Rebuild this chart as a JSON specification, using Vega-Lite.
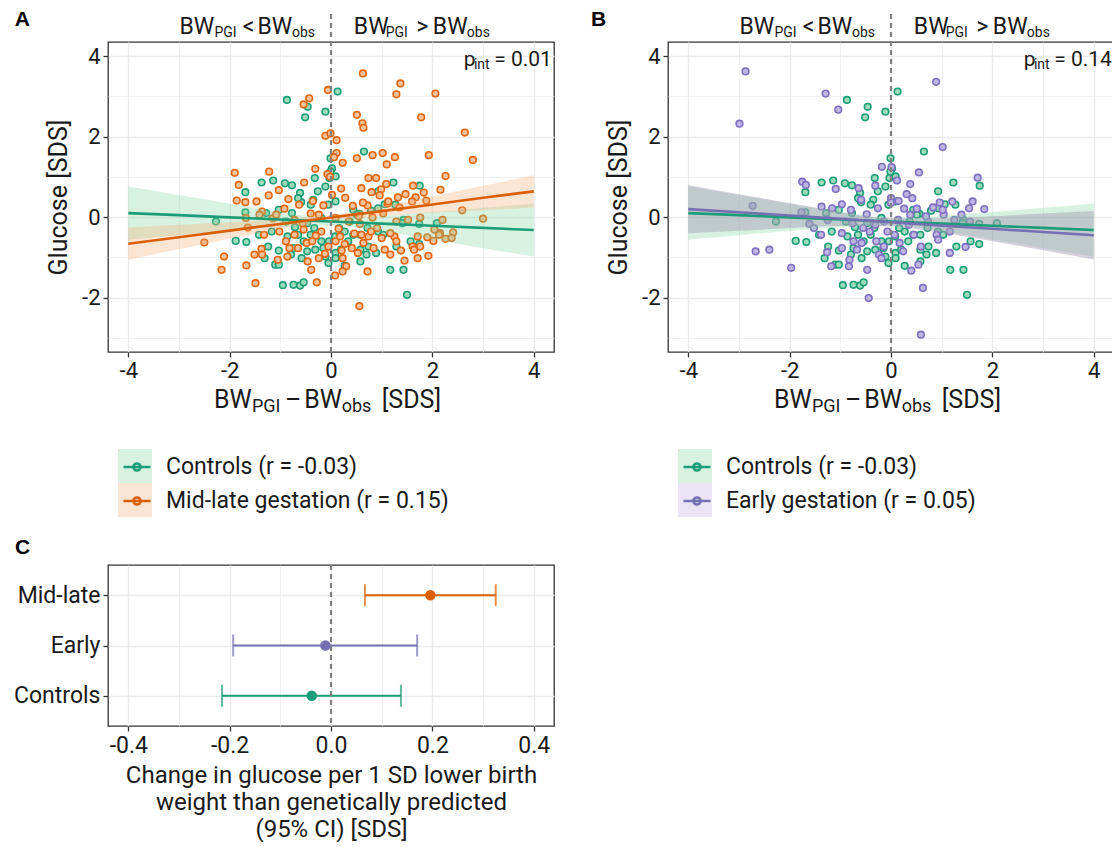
{
  "$schema": "https://vega.github.io/schema/vega-lite/v6.json",
  "background": "white",
  "padding": {"left": 12, "top": 8, "right": 0, "bottom": 0},
  "config": {
    "font": "Roboto",
    "view": {"stroke": "#333333", "strokeWidth": 1.3},
    "axis": {"domain": false, "tickColor": "#333333", "tickSize": 5, "tickWidth": 1.3, "labelColor": "#1a1a1a", "labelFontSize": 22, "labelPadding": 3, "labelFont": "Roboto", "titleFont": "Roboto", "titleFontSize": 25, "titleFontWeight": "normal", "titleColor": "#1a1a1a", "gridColor": "#ebebeb", "gridWidth": 1.4},
    "text": {"font": "Roboto", "color": "#1a1a1a"},
    "legend": {"labelFont": "Roboto", "labelColor": "#1a1a1a", "labelLimit": 600}
  },
  "datasets": {
    "controls": [
      {"x":-0.87,"y":2.91},{"x":-0.46,"y":2.74},{"x":-0.51,"y":2.48},{"x":-0.11,"y":2.62},{"x":0.13,"y":3.12},{"x":0.65,"y":1.63},{"x":-0.01,"y":1.46},{"x":0.02,"y":1.21},{"x":-0.01,"y":1.13},{"x":-0.03,"y":0.97},{"x":0.09,"y":1.01},{"x":-1.37,"y":0.86},{"x":-1.14,"y":0.91},{"x":-0.91,"y":0.84},{"x":-0.77,"y":0.79},{"x":-0.32,"y":0.97},{"x":-0.11,"y":0.76},{"x":-0.26,"y":0.64},{"x":-0.61,"y":0.60},{"x":-1.69,"y":0.62},{"x":1.23,"y":0.86},{"x":0.93,"y":0.64},{"x":1.75,"y":0.78},{"x":-0.35,"y":0.43},{"x":-0.59,"y":0.37},{"x":-1.69,"y":0.12},{"x":-2.27,"y":-0.11},{"x":-1.88,"y":-0.59},{"x":-1.67,"y":-0.62},{"x":-1.24,"y":-0.73},{"x":-1.03,"y":-0.83},{"x":-0.79,"y":-0.93},{"x":-0.74,"y":-0.77},{"x":-1.10,"y":-1.18},{"x":-1.03,"y":-1.18},{"x":-0.95,"y":-1.69},{"x":-0.74,"y":-1.68},{"x":-0.61,"y":-1.70},{"x":-0.54,"y":-1.62},{"x":-0.05,"y":-1.14},{"x":-0.11,"y":-0.98},{"x":-0.19,"y":-0.60},{"x":-0.40,"y":-0.44},{"x":-0.54,"y":-0.60},{"x":-0.65,"y":-0.44},{"x":-0.86,"y":-0.48},{"x":-1.17,"y":-0.36},{"x":0.27,"y":-0.36},{"x":0.44,"y":-0.44},{"x":0.09,"y":-0.89},{"x":0.27,"y":-1.21},{"x":0.58,"y":-1.10},{"x":0.70,"y":-0.93},{"x":0.89,"y":-0.89},{"x":1.17,"y":-1.31},{"x":1.43,"y":-1.31},{"x":1.50,"y":-1.93},{"x":1.29,"y":-0.73},{"x":1.57,"y":-0.60},{"x":1.74,"y":-0.67},{"x":0.93,"y":-0.36},{"x":0.72,"y":-0.27},{"x":0.56,"y":0.08},{"x":1.06,"y":0.32},{"x":1.27,"y":0.31},{"x":1.43,"y":-0.07},{"x":1.74,"y":-0.17},{"x":2.09,"y":-0.15},{"x":0.58,"y":-0.44},{"x":0.34,"y":-0.60},{"x":0.20,"y":-0.81},{"x":0.16,"y":-0.27},{"x":-0.19,"y":-0.02},{"x":-0.33,"y":-0.27},{"x":-0.47,"y":-0.15},{"x":-0.71,"y":-0.25},{"x":-0.89,"y":-0.11},{"x":-1.03,"y":0.18},{"x":-1.28,"y":0.10},{"x":-0.77,"y":0.10},{"x":-0.65,"y":0.47},{"x":-0.40,"y":0.31},{"x":-0.05,"y":0.31},{"x":0.09,"y":0.39},{"x":0.44,"y":0.18},{"x":0.51,"y":0.06},{"x":0.79,"y":0.16},{"x":0.93,"y":0.22},{"x":0.37,"y":-0.11},{"x":0.08,"y":-0.48},{"x":-0.04,"y":-0.60},{"x":-0.15,"y":-0.77},{"x":-0.31,"y":-0.81},{"x":-0.47,"y":-0.85},{"x":-0.58,"y":-1.02},{"x":0.58,"y":-0.81},{"x":0.74,"y":-0.73},{"x":0.09,"y":-1.02},{"x":-1.42,"y":-0.44},{"x":-1.31,"y":-1.02},{"x":1.03,"y":-0.44},{"x":1.41,"y":-0.15}
    ],
    "midlate": [
      {"x":0.63,"y":3.57},{"x":1.37,"y":3.32},{"x":1.29,"y":3.05},{"x":2.06,"y":3.07},{"x":-0.06,"y":3.16},{"x":-0.43,"y":2.95},{"x":-0.54,"y":2.80},{"x":0.51,"y":2.54},{"x":0.62,"y":2.33},{"x":0.64,"y":2.22},{"x":1.78,"y":2.48},{"x":2.64,"y":2.10},{"x":2.80,"y":1.42},{"x":-0.11,"y":2.02},{"x":-0.01,"y":2.08},{"x":0.11,"y":1.91},{"x":1.02,"y":1.59},{"x":0.82,"y":1.54},{"x":1.26,"y":1.49},{"x":0.51,"y":1.46},{"x":1.93,"y":1.54},{"x":0.11,"y":1.59},{"x":0.06,"y":1.49},{"x":0.23,"y":1.35},{"x":1.10,"y":1.31},{"x":2.26,"y":1.02},{"x":2.16,"y":0.68},{"x":-0.31,"y":1.20},{"x":-1.22,"y":1.13},{"x":-1.90,"y":1.10},{"x":-1.82,"y":0.80},{"x":-0.07,"y":1.07},{"x":-0.02,"y":1.00},{"x":0.89,"y":0.97},{"x":0.74,"y":0.97},{"x":1.09,"y":0.82},{"x":0.99,"y":0.69},{"x":-0.53,"y":0.86},{"x":-1.23,"y":0.54},{"x":-0.84,"y":0.45},{"x":-1.86,"y":0.41},{"x":-1.69,"y":0.37},{"x":-1.03,"y":0.67},{"x":0.60,"y":0.72},{"x":0.80,"y":0.62},{"x":0.96,"y":0.54},{"x":1.32,"y":0.49},{"x":1.62,"y":0.78},{"x":1.83,"y":0.61},{"x":1.88,"y":0.41},{"x":1.67,"y":0.49},{"x":1.47,"y":0.57},{"x":1.12,"y":0.34},{"x":1.35,"y":0.24},{"x":0.72,"y":0.29},{"x":0.63,"y":0.36},{"x":0.43,"y":0.28},{"x":0.28,"y":0.48},{"x":0.20,"y":0.71},{"x":0.02,"y":0.55},{"x":-0.15,"y":0.29},{"x":-0.36,"y":0.40},{"x":-0.63,"y":0.31},{"x":-0.92,"y":0.21},{"x":-1.36,"y":0.14},{"x":2.59,"y":0.17},{"x":3.00,"y":-0.04},{"x":2.41,"y":-0.38},{"x":2.26,"y":-0.54},{"x":2.15,"y":-0.40},{"x":2.02,"y":-0.59},{"x":1.92,"y":-0.96},{"x":1.71,"y":-0.48},{"x":1.61,"y":-0.73},{"x":1.64,"y":-0.81},{"x":1.45,"y":-1.08},{"x":1.38,"y":-0.83},{"x":1.25,"y":-0.48},{"x":1.29,"y":-0.60},{"x":1.17,"y":-0.40},{"x":0.91,"y":-0.27},{"x":0.74,"y":-0.48},{"x":0.84,"y":-0.77},{"x":0.72,"y":-1.35},{"x":0.56,"y":-2.21},{"x":0.30,"y":-1.22},{"x":0.23,"y":-1.02},{"x":0.08,"y":-1.45},{"x":0.21,"y":-0.83},{"x":0.41,"y":-0.77},{"x":0.53,"y":-0.89},{"x":0.64,"y":-0.64},{"x":0.46,"y":-0.41},{"x":0.15,"y":-0.29},{"x":-0.19,"y":-0.36},{"x":-0.30,"y":-0.46},{"x":-0.48,"y":-0.64},{"x":-0.46,"y":-1.10},{"x":-0.39,"y":-1.31},{"x":-0.28,"y":-1.62},{"x":-0.65,"y":-0.77},{"x":-0.86,"y":-0.98},{"x":-0.89,"y":-0.60},{"x":-1.02,"y":-0.36},{"x":-1.32,"y":-0.44},{"x":-1.37,"y":-0.79},{"x":-1.36,"y":-0.93},{"x":-1.67,"y":-1.20},{"x":-1.49,"y":-1.64},{"x":-2.11,"y":-0.98},{"x":-2.16,"y":-1.31},{"x":-2.50,"y":-0.63},{"x":-1.15,"y":-0.03},{"x":-1.08,"y":0.06},{"x":-0.72,"y":-0.07},{"x":-0.56,"y":-0.15},{"x":-0.40,"y":0.09},{"x":-0.24,"y":0.06},{"x":0.09,"y":-0.02},{"x":0.35,"y":-0.11},{"x":0.55,"y":0.02},{"x":0.82,"y":-0.01},{"x":1.03,"y":0.09},{"x":1.29,"y":-0.11},{"x":1.52,"y":-0.07},{"x":1.76,"y":-0.01},{"x":1.90,"y":-0.50},{"x":2.13,"y":-0.44},{"x":2.04,"y":-0.31},{"x":0.09,"y":-0.60},{"x":0.18,"y":-0.48},{"x":-0.05,"y":-0.73},{"x":-0.12,"y":-0.91},{"x":0.27,"y":-0.67},{"x":0.60,"y":-0.44},{"x":0.79,"y":-0.36},{"x":1.00,"y":-0.52},{"x":1.06,"y":-0.81},{"x":1.17,"y":-0.93},{"x":0.57,"y":-0.17},{"x":-0.54,"y":-0.31},{"x":-0.72,"y":-0.44},{"x":-0.82,"y":-0.77},{"x":-1.05,"y":-1.06},{"x":-1.51,"y":-0.93},{"x":1.71,"y":-1.02},{"x":1.76,"y":-0.73},{"x":-0.37,"y":-0.60},{"x":-0.24,"y":-1.02},{"x":0.23,"y":-1.35},{"x":-1.47,"y":0.39},{"x":-1.41,"y":0.06},{"x":-1.68,"y":-0.02},{"x":-1.64,"y":-0.26},{"x":1.13,"y":0.39},{"x":1.60,"y":0.39},{"x":2.20,"y":-0.07},{"x":2.38,"y":-0.52}
    ],
    "early": [
      {"x":-2.87,"y":3.62},{"x":-2.99,"y":2.32},{"x":-1.29,"y":3.07},{"x":-1.04,"y":2.67},{"x":0.89,"y":3.36},{"x":1.02,"y":1.74},{"x":-0.18,"y":1.25},{"x":0.01,"y":1.24},{"x":0.55,"y":1.11},{"x":-1.75,"y":0.88},{"x":-1.68,"y":0.80},{"x":-1.09,"y":0.70},{"x":-0.64,"y":0.72},{"x":-0.31,"y":0.78},{"x":0.12,"y":0.91},{"x":0.38,"y":0.82},{"x":0.31,"y":0.57},{"x":0.00,"y":0.47},{"x":-0.59,"y":0.43},{"x":1.71,"y":0.98},{"x":1.61,"y":0.39},{"x":1.84,"y":0.20},{"x":1.54,"y":0.22},{"x":1.21,"y":0.39},{"x":0.83,"y":0.24},{"x":0.51,"y":0.21},{"x":-2.73,"y":0.28},{"x":-2.67,"y":-0.85},{"x":-2.40,"y":-0.81},{"x":-1.97,"y":-1.26},{"x":-1.37,"y":0.26},{"x":-1.16,"y":0.22},{"x":-0.97,"y":0.32},{"x":-0.79,"y":0.18},{"x":-0.48,"y":0.07},{"x":-0.26,"y":0.22},{"x":0.00,"y":0.36},{"x":0.15,"y":0.40},{"x":0.26,"y":0.21},{"x":-1.77,"y":0.12},{"x":-1.61,"y":-0.17},{"x":-1.38,"y":-0.44},{"x":-1.26,"y":-0.87},{"x":-1.18,"y":-1.22},{"x":-0.97,"y":-0.77},{"x":-0.97,"y":-0.40},{"x":-0.83,"y":-1.22},{"x":-0.82,"y":-1.06},{"x":-0.74,"y":-0.60},{"x":-0.67,"y":-0.81},{"x":-0.58,"y":-0.64},{"x":-0.47,"y":-1.31},{"x":-0.44,"y":-2.01},{"x":-0.42,"y":-0.36},{"x":-0.29,"y":-0.60},{"x":-0.24,"y":-0.93},{"x":-0.19,"y":-1.02},{"x":-0.14,"y":-0.73},{"x":-0.07,"y":-0.36},{"x":0.07,"y":-0.44},{"x":0.17,"y":-0.64},{"x":0.24,"y":-0.85},{"x":0.40,"y":-1.33},{"x":0.54,"y":-1.18},{"x":0.59,"y":-0.73},{"x":0.63,"y":-1.76},{"x":0.59,"y":-2.92},{"x":0.45,"y":-0.44},{"x":0.35,"y":-0.19},{"x":0.14,"y":-0.07},{"x":0.73,"y":-0.11},{"x":0.90,"y":-0.44},{"x":0.93,"y":-0.56},{"x":1.16,"y":-0.89},{"x":1.16,"y":-0.36},{"x":1.47,"y":-0.74},{"x":1.39,"y":0.06},{"x":1.56,"y":-0.11},{"x":1.25,"y":-0.07},{"x":1.04,"y":0.06},{"x":0.69,"y":0.02},{"x":0.38,"y":0.06},{"x":-0.14,"y":-0.11},{"x":-0.31,"y":-0.19},{"x":-0.55,"y":-0.27},{"x":-0.76,"y":-0.15},{"x":-1.25,"y":-0.07},{"x":-1.52,"y":-0.27},{"x":0.42,"y":0.47},{"x":0.96,"y":0.36},{"x":1.02,"y":0.18}
    ],
    "fits": [
      {"group":"Controls","x":-4,"fit":0.10,"lo":-0.56,"hi":0.76},
      {"group":"Controls","x":-3,"fit":0.05,"lo":-0.45,"hi":0.55},
      {"group":"Controls","x":-2,"fit":-0.005,"lo":-0.345,"hi":0.335},
      {"group":"Controls","x":-1,"fit":-0.0575,"lo":-0.25,"hi":0.13},
      {"group":"Controls","x":0,"fit":-0.11,"lo":-0.21,"hi":-0.01},
      {"group":"Controls","x":1,"fit":-0.1625,"lo":-0.35,"hi":0.03},
      {"group":"Controls","x":2,"fit":-0.215,"lo":-0.555,"hi":0.125},
      {"group":"Controls","x":3,"fit":-0.2675,"lo":-0.77,"hi":0.23},
      {"group":"Controls","x":4,"fit":-0.32,"lo":-0.98,"hi":0.34},
      {"group":"Mid-late","x":-4,"fit":-0.66,"lo":-1.06,"hi":-0.26},
      {"group":"Mid-late","x":-3,"fit":-0.50,"lo":-0.80,"hi":-0.19},
      {"group":"Mid-late","x":-2,"fit":-0.335,"lo":-0.54,"hi":-0.13},
      {"group":"Mid-late","x":-1,"fit":-0.17,"lo":-0.29,"hi":-0.05},
      {"group":"Mid-late","x":0,"fit":-0.01,"lo":-0.08,"hi":0.06},
      {"group":"Mid-late","x":1,"fit":0.15,"lo":0.03,"hi":0.27},
      {"group":"Mid-late","x":2,"fit":0.315,"lo":0.11,"hi":0.52},
      {"group":"Mid-late","x":3,"fit":0.48,"lo":0.17,"hi":0.78},
      {"group":"Mid-late","x":4,"fit":0.64,"lo":0.24,"hi":1.04},
      {"group":"Early","x":-4,"fit":0.20,"lo":-0.40,"hi":0.80},
      {"group":"Early","x":-3,"fit":0.12,"lo":-0.34,"hi":0.57},
      {"group":"Early","x":-2,"fit":0.04,"lo":-0.27,"hi":0.35},
      {"group":"Early","x":-1,"fit":-0.04,"lo":-0.22,"hi":0.13},
      {"group":"Early","x":0,"fit":-0.125,"lo":-0.23,"hi":-0.03},
      {"group":"Early","x":1,"fit":-0.21,"lo":-0.39,"hi":-0.03},
      {"group":"Early","x":2,"fit":-0.29,"lo":-0.60,"hi":0.02},
      {"group":"Early","x":3,"fit":-0.37,"lo":-0.82,"hi":0.09},
      {"group":"Early","x":4,"fit":-0.45,"lo":-1.05,"hi":0.15}
    ],
    "hdr": [
      {"t":"BW","x":-2.99,"k":"main"},{"t":"PGI","x":-2.30,"k":"sub"},{"t":"<","x":-1.74,"k":"main"},{"t":"BW","x":-1.45,"k":"main"},{"t":"obs","x":-0.77,"k":"sub"},
      {"t":"BW","x":0.45,"k":"main"},{"t":"PGI","x":1.08,"k":"sub"},{"t":">","x":1.68,"k":"main"},{"t":"BW","x":2.01,"k":"main"},{"t":"obs","x":2.68,"k":"sub"}
    ],
    "xtitle": [
      {"t":"BW","x":-2.31,"k":"main"},{"t":"PGI","x":-1.56,"k":"sub"},{"t":"–","x":-0.91,"k":"main"},{"t":"BW","x":-0.53,"k":"main"},{"t":"obs","x":0.21,"k":"sub"},{"t":"[SDS]","x":1.0,"k":"main"}
    ],
    "est": [
      {"grp":"Mid-late","est":0.196,"lo":0.067,"hi":0.325},
      {"grp":"Early","est":-0.011,"lo":-0.193,"hi":0.170},
      {"grp":"Controls","est":-0.038,"lo":-0.215,"hi":0.138}
    ]
  },
  "columns": 2,
  "spacing": {"row": 213, "column": 114},
  "bounds": "flush",
  "resolve": {"scale": {"color": "independent", "fill": "independent", "stroke": "independent"}},
  "concat": [
    {
      "width": 446, "height": 310,
      "layer": [
        {"data": {"name": "controls"}, "mark": {"type": "circle", "size": 44, "fill": "#9edbbd", "stroke": "#1b9e77", "strokeWidth": 1.6, "opacity": 1},
         "encoding": {
           "x": {"field": "x", "type": "quantitative", "scale": {"domain": [-4.4, 4.4], "nice": false, "zero": false},
                 "axis": {"title": null, "values": [-4,-3,-2,-1,0,1,2,3,4], "labelExpr": "datum.value % 2 === 0 ? '' + datum.value : ''", "gridWidth": {"condition": {"test": "datum.value % 2 !== 0", "value": 0.7}, "value": 1.4}, "tickOpacity": {"condition": {"test": "datum.value % 2 !== 0", "value": 0}, "value": 1}}},
           "y": {"field": "y", "type": "quantitative", "scale": {"domain": [-3.35, 4.35], "nice": false, "zero": false},
                 "axis": {"title": "Glucose [SDS]", "titlePadding": 10, "values": [-3,-2,-1,0,1,2,3,4], "labelExpr": "datum.value % 2 === 0 ? '' + datum.value : ''", "gridWidth": {"condition": {"test": "datum.value % 2 !== 0", "value": 0.7}, "value": 1.4}, "tickOpacity": {"condition": {"test": "datum.value % 2 !== 0", "value": 0}, "value": 1}}}
         }},
        {"data": {"name": "midlate"}, "mark": {"type": "circle", "size": 44, "fill": "#f8c29a", "stroke": "#e0660f", "strokeWidth": 1.6, "opacity": 1},
         "encoding": {"x": {"field": "x", "type": "quantitative"}, "y": {"field": "y", "type": "quantitative"}}},
        {"data": {"name": "fits"}, "transform": [{"filter": "datum.group !== 'Early'"}],
         "mark": {"type": "area", "opacity": 0.3, "interpolate": "monotone"},
         "encoding": {"x": {"field": "x", "type": "quantitative"}, "y": {"field": "lo", "type": "quantitative"}, "y2": {"field": "hi"},
           "fill": {"field": "group", "type": "nominal", "scale": {"domain": ["Controls", "Mid-late"], "range": ["#7fd39d", "#f9a870"]},
                    "legend": {"orient": "none", "legendX": 10, "legendY": 407, "title": null, "symbolType": "square", "symbolSize": 1156, "symbolOpacity": 0.3, "symbolStrokeWidth": 0, "labelExpr": "''", "rowPadding": 0, "padding": 0, "labelOffset": 0}}}},
        {"data": {"name": "fits"}, "transform": [{"filter": "datum.group !== 'Early'"}],
         "mark": {"type": "line", "strokeWidth": 2.6},
         "encoding": {"x": {"field": "x", "type": "quantitative"}, "y": {"field": "fit", "type": "quantitative"},
           "stroke": {"field": "group", "type": "nominal", "scale": {"range": ["#1b9e77", "#d95f02"]},
                      "legend": {"orient": "none", "legendX": 14, "legendY": 410, "title": null, "symbolType": "M-1,0L1,0M0.26,0A0.26,0.26,0,1,1,-0.26,0A0.26,0.26,0,1,1,0.26,0Z", "symbolSize": 729, "symbolStrokeWidth": 2.6, "labelFontSize": 23, "labelOffset": 14, "rowPadding": 7, "padding": 0, "labelLimit": 600,
                                 "labelExpr": "datum.label === 'Controls' ? 'Controls (r = -0.03)' : 'Mid-late gestation (r = 0.15)'"}}}},
        {"data": {"values": [{"x": 0}]}, "mark": {"type": "rule", "strokeDash": [5, 4], "color": "#808080", "strokeWidth": 2.2},
         "encoding": {"x": {"field": "x", "type": "quantitative"}, "y": {"datum": -3.35}, "y2": {"datum": 5.05}}},
        {"data": {"name": "hdr"}, "transform": [{"filter": "datum.k === 'main'"}], "mark": {"type": "text", "align": "left", "baseline": "alphabetic", "fontSize": 23},
         "encoding": {"x": {"field": "x", "type": "quantitative"}, "y": {"datum": 4.55}, "text": {"field": "t"}}},
        {"data": {"name": "hdr"}, "transform": [{"filter": "datum.k === 'sub'"}], "mark": {"type": "text", "align": "left", "baseline": "alphabetic", "fontSize": 14, "dy": 3},
         "encoding": {"x": {"field": "x", "type": "quantitative"}, "y": {"datum": 4.55}, "text": {"field": "t"}}},
        {"data": {"values": [{"t": "p", "x": 2.62}, {"t": "= 0.01", "x": 3.22}]}, "mark": {"type": "text", "align": "left", "baseline": "alphabetic", "fontSize": 21},
         "encoding": {"x": {"field": "x", "type": "quantitative"}, "y": {"datum": 3.75}, "text": {"field": "t"}}},
        {"data": {"values": [{"t": "int", "x": 2.82}]}, "mark": {"type": "text", "align": "left", "baseline": "alphabetic", "fontSize": 14, "dy": 3},
         "encoding": {"x": {"field": "x", "type": "quantitative"}, "y": {"datum": 3.75}, "text": {"field": "t"}}},
        {"data": {"name": "xtitle"}, "transform": [{"filter": "datum.k === 'main'"}], "mark": {"type": "text", "align": "left", "baseline": "alphabetic", "fontSize": 25},
         "encoding": {"x": {"field": "x", "type": "quantitative"}, "y": {"datum": -4.74}, "text": {"field": "t"}}},
        {"data": {"name": "xtitle"}, "transform": [{"filter": "datum.k === 'sub'"}], "mark": {"type": "text", "align": "left", "baseline": "alphabetic", "fontSize": 18, "dy": 4},
         "encoding": {"x": {"field": "x", "type": "quantitative"}, "y": {"datum": -4.74}, "text": {"field": "t"}}},
        {"data": {"values": [{"t": "A", "x": -6.24}]}, "mark": {"type": "text", "align": "left", "baseline": "alphabetic", "fontSize": 21, "fontWeight": "bold", "font": "Liberation Sans", "color": "black"},
         "encoding": {"x": {"field": "x", "type": "quantitative"}, "y": {"datum": 4.75}, "text": {"field": "t"}}}
      ]
    },
    {
      "width": 446, "height": 310,
      "layer": [
        {"data": {"name": "controls"}, "mark": {"type": "circle", "size": 44, "fill": "#9edbbd", "stroke": "#1b9e77", "strokeWidth": 1.6, "opacity": 1},
         "encoding": {
           "x": {"field": "x", "type": "quantitative", "scale": {"domain": [-4.4, 4.4], "nice": false, "zero": false},
                 "axis": {"title": null, "values": [-4,-3,-2,-1,0,1,2,3,4], "labelExpr": "datum.value % 2 === 0 ? '' + datum.value : ''", "gridWidth": {"condition": {"test": "datum.value % 2 !== 0", "value": 0.7}, "value": 1.4}, "tickOpacity": {"condition": {"test": "datum.value % 2 !== 0", "value": 0}, "value": 1}}},
           "y": {"field": "y", "type": "quantitative", "scale": {"domain": [-3.35, 4.35], "nice": false, "zero": false},
                 "axis": {"title": "Glucose [SDS]", "titlePadding": 10, "values": [-3,-2,-1,0,1,2,3,4], "labelExpr": "datum.value % 2 === 0 ? '' + datum.value : ''", "gridWidth": {"condition": {"test": "datum.value % 2 !== 0", "value": 0.7}, "value": 1.4}, "tickOpacity": {"condition": {"test": "datum.value % 2 !== 0", "value": 0}, "value": 1}}}
         }},
        {"data": {"name": "early"}, "mark": {"type": "circle", "size": 44, "fill": "#c0b6e4", "stroke": "#7e6fc0", "strokeWidth": 1.6, "opacity": 1},
         "encoding": {"x": {"field": "x", "type": "quantitative"}, "y": {"field": "y", "type": "quantitative"}}},
        {"data": {"name": "fits"}, "transform": [{"filter": "datum.group !== 'Mid-late'"}],
         "mark": {"type": "area", "opacity": 0.3, "interpolate": "monotone"},
         "encoding": {"x": {"field": "x", "type": "quantitative"}, "y": {"field": "lo", "type": "quantitative"}, "y2": {"field": "hi"},
           "fill": {"field": "group", "type": "nominal", "scale": {"domain": ["Controls", "Early"], "range": ["#7fd39d", "#b9a6dc"]},
                    "legend": {"orient": "none", "legendX": 10, "legendY": 407, "title": null, "symbolType": "square", "symbolSize": 1156, "symbolOpacity": 0.3, "symbolStrokeWidth": 0, "labelExpr": "''", "rowPadding": 0, "padding": 0, "labelOffset": 0}}}},
        {"data": {"name": "fits"}, "transform": [{"filter": "datum.group === 'Early'"}],
         "mark": {"type": "area", "opacity": 0.22, "interpolate": "monotone", "fill": "#8c8c8c"},
         "encoding": {"x": {"field": "x", "type": "quantitative"}, "y": {"field": "lo", "type": "quantitative"}, "y2": {"field": "hi"}}},
        {"data": {"name": "fits"}, "transform": [{"filter": "datum.group !== 'Mid-late'"}],
         "mark": {"type": "line", "strokeWidth": 2.6},
         "encoding": {"x": {"field": "x", "type": "quantitative"}, "y": {"field": "fit", "type": "quantitative"},
           "stroke": {"field": "group", "type": "nominal", "scale": {"range": ["#1b9e77", "#7570b3"]},
                      "legend": {"orient": "none", "legendX": 14, "legendY": 410, "title": null, "symbolType": "M-1,0L1,0M0.26,0A0.26,0.26,0,1,1,-0.26,0A0.26,0.26,0,1,1,0.26,0Z", "symbolSize": 729, "symbolStrokeWidth": 2.6, "labelFontSize": 23, "labelOffset": 14, "rowPadding": 7, "padding": 0, "labelLimit": 600,
                                 "labelExpr": "datum.label === 'Controls' ? 'Controls (r = -0.03)' : 'Early gestation (r = 0.05)'"}}}},
        {"data": {"values": [{"x": 0}]}, "mark": {"type": "rule", "strokeDash": [5, 4], "color": "#808080", "strokeWidth": 2.2},
         "encoding": {"x": {"field": "x", "type": "quantitative"}, "y": {"datum": -3.35}, "y2": {"datum": 5.05}}},
        {"data": {"name": "hdr"}, "transform": [{"filter": "datum.k === 'main'"}], "mark": {"type": "text", "align": "left", "baseline": "alphabetic", "fontSize": 23},
         "encoding": {"x": {"field": "x", "type": "quantitative"}, "y": {"datum": 4.55}, "text": {"field": "t"}}},
        {"data": {"name": "hdr"}, "transform": [{"filter": "datum.k === 'sub'"}], "mark": {"type": "text", "align": "left", "baseline": "alphabetic", "fontSize": 14, "dy": 3},
         "encoding": {"x": {"field": "x", "type": "quantitative"}, "y": {"datum": 4.55}, "text": {"field": "t"}}},
        {"data": {"values": [{"t": "p", "x": 2.62}, {"t": "= 0.14", "x": 3.22}]}, "mark": {"type": "text", "align": "left", "baseline": "alphabetic", "fontSize": 21},
         "encoding": {"x": {"field": "x", "type": "quantitative"}, "y": {"datum": 3.75}, "text": {"field": "t"}}},
        {"data": {"values": [{"t": "int", "x": 2.82}]}, "mark": {"type": "text", "align": "left", "baseline": "alphabetic", "fontSize": 14, "dy": 3},
         "encoding": {"x": {"field": "x", "type": "quantitative"}, "y": {"datum": 3.75}, "text": {"field": "t"}}},
        {"data": {"name": "xtitle"}, "transform": [{"filter": "datum.k === 'main'"}], "mark": {"type": "text", "align": "left", "baseline": "alphabetic", "fontSize": 25},
         "encoding": {"x": {"field": "x", "type": "quantitative"}, "y": {"datum": -4.74}, "text": {"field": "t"}}},
        {"data": {"name": "xtitle"}, "transform": [{"filter": "datum.k === 'sub'"}], "mark": {"type": "text", "align": "left", "baseline": "alphabetic", "fontSize": 18, "dy": 4},
         "encoding": {"x": {"field": "x", "type": "quantitative"}, "y": {"datum": -4.74}, "text": {"field": "t"}}},
        {"data": {"values": [{"t": "B", "x": -5.92}]}, "mark": {"type": "text", "align": "left", "baseline": "alphabetic", "fontSize": 21, "fontWeight": "bold", "font": "Liberation Sans", "color": "black"},
         "encoding": {"x": {"field": "x", "type": "quantitative"}, "y": {"datum": 4.75}, "text": {"field": "t"}}}
      ]
    },
    {
      "width": 446, "height": 161,
      "title": {"text": "C", "anchor": "start", "frame": "group", "dx": -93, "dy": 20, "fontSize": 21, "fontWeight": "bold", "font": "Liberation Sans", "color": "black", "baseline": "alphabetic", "offset": 9},
      "data": {"name": "est"},
      "layer": [
        {"mark": {"type": "rule", "strokeWidth": 2},
         "encoding": {
           "y": {"field": "grp", "type": "nominal", "sort": ["Mid-late", "Early", "Controls"], "scale": {"type": "point", "padding": 0.6}, "axis": {"title": null, "labelFontSize": 23, "grid": true, "gridWidth": 1.4}},
           "x": {"field": "lo", "type": "quantitative", "scale": {"domain": [-0.44, 0.44], "nice": false, "zero": false},
                 "axis": {"title": ["Change in glucose per 1 SD lower birth", "weight than genetically predicted", "(95% CI) [SDS]"], "titleFontSize": 24, "titleLineHeight": 27, "titlePadding": 6, "labelFontSize": 23, "values": [-0.4,-0.3,-0.2,-0.1,0,0.1,0.2,0.3,0.4],
                          "labelExpr": "abs(round(datum.value*10)) % 2 === 0 ? (datum.value < 0 ? '-' : '') + format(abs(datum.value), '.1f') : ''",
                          "gridWidth": {"condition": {"test": "abs(round(datum.value*10)) % 2 === 1", "value": 0.7}, "value": 1.4},
                          "tickOpacity": {"condition": {"test": "abs(round(datum.value*10)) % 2 === 1", "value": 0}, "value": 1}}},
           "x2": {"field": "hi"},
           "color": {"field": "grp", "type": "nominal", "scale": {"domain": ["Mid-late", "Early", "Controls"], "range": ["#d95f02", "#7570b3", "#1b9e77"]}, "legend": null}
         }},
        {"mark": {"type": "tick", "thickness": 2, "size": 22},
         "encoding": {"y": {"field": "grp", "type": "nominal", "sort": ["Mid-late", "Early", "Controls"]}, "x": {"field": "lo", "type": "quantitative"}, "color": {"field": "grp", "type": "nominal", "legend": null}}},
        {"mark": {"type": "tick", "thickness": 2, "size": 22},
         "encoding": {"y": {"field": "grp", "type": "nominal", "sort": ["Mid-late", "Early", "Controls"]}, "x": {"field": "hi", "type": "quantitative"}, "color": {"field": "grp", "type": "nominal", "legend": null}}},
        {"data": {"values": [{"x": 0}]}, "mark": {"type": "rule", "strokeDash": [5, 4], "color": "#808080", "strokeWidth": 2.2},
         "encoding": {"x": {"field": "x", "type": "quantitative"}}},
        {"mark": {"type": "circle", "size": 110, "opacity": 1},
         "encoding": {"y": {"field": "grp", "type": "nominal", "sort": ["Mid-late", "Early", "Controls"]}, "x": {"field": "est", "type": "quantitative"}, "color": {"field": "grp", "type": "nominal", "legend": null}}}
      ]
    }
  ]
}
